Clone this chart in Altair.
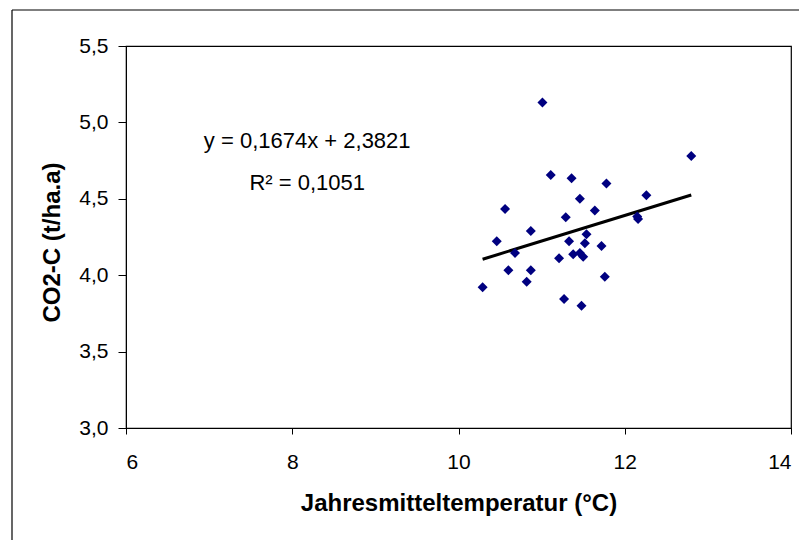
import altair as alt
import pandas as pd

# Data
temperature = [11.01, 12.80, 11.11, 11.36, 11.78, 12.26, 11.46, 10.56, 11.64, 11.29,
               12.15, 12.16, 10.87, 11.54, 10.46, 11.33, 11.52, 10.68, 11.72, 11.21,
               11.38, 11.46, 11.50, 10.60, 10.87, 10.82, 11.76, 10.29, 11.27, 11.48]
co2c = [5.13, 4.78, 4.655, 4.635, 4.60, 4.524, 4.50, 4.434, 4.423, 4.38,
        4.384, 4.367, 4.29, 4.268, 4.222, 4.222, 4.209, 4.146, 4.191, 4.111,
        4.137, 4.146, 4.121, 4.032, 4.032, 3.957, 3.99, 3.921, 3.844, 3.80]

slope = 0.1674
intercept = 2.3821
equation_lines = ["y = 0,1674x + 2,3821", "R² = 0,1051"]
equation_x = [8.18, 8.18]
equation_y = [4.83, 4.555]

x_ticks = [6, 8, 10, 12, 14]
y_ticks = [3.0, 3.5, 4.0, 4.5, 5.0, 5.5]

FONT = "Liberation Sans"

points = pd.DataFrame({"t": temperature, "c": co2c})
line_x = [min(temperature), max(temperature)]
trend = pd.DataFrame({"t": line_x, "c": [slope * v + intercept for v in line_x]})
eq = pd.DataFrame({"t": equation_x, "c": equation_y, "label": equation_lines})

x_scale = alt.Scale(domain=[6, 14], nice=False, zero=False)
y_scale = alt.Scale(domain=[3.0, 5.5], nice=False, zero=False)

x_axis = alt.Axis(
    title="Jahresmitteltemperatur (°C)", values=x_ticks, grid=False, format="d",
    domainColor="black", tickColor="black", tickSize=6, labelPadding=17,
    labelFont=FONT, labelFontSize=21, labelColor="black",
    titleFont=FONT, titleFontSize=24, titleFontWeight="bold", titleColor="black",
    titleY=82, titleBaseline="alphabetic",
)
y_axis = alt.Axis(
    title="CO2-C (t/ha.a)", values=y_ticks, grid=False,
    labelExpr="replace(format(datum.value, '.1f'), '.', ',')",
    domainColor="black", tickColor="black", tickSize=8, labelPadding=10,
    labelFont=FONT, labelFontSize=21, labelColor="black",
    titleFont=FONT, titleFontSize=24, titleFontWeight="bold", titleColor="black",
    titleX=-74, titleY=196, titleBaseline="middle", titleAngle=-90,
)

pts = alt.Chart(points).mark_point(
    shape="diamond", filled=True, size=100, color="#000080", opacity=1
).encode(
    x=alt.X("t:Q", scale=x_scale, axis=x_axis),
    y=alt.Y("c:Q", scale=y_scale, axis=y_axis),
)

line = alt.Chart(trend).mark_line(color="black", strokeWidth=3).encode(
    x=alt.X("t:Q", scale=x_scale),
    y=alt.Y("c:Q", scale=y_scale),
)

text = alt.Chart(eq).mark_text(
    font=FONT, fontSize=22, color="black", align="center", baseline="alphabetic"
).encode(
    x=alt.X("t:Q", scale=x_scale),
    y=alt.Y("c:Q", scale=y_scale),
    text="label:N",
)

border_top = alt.Chart(pd.DataFrame({"a": [0]})).mark_rule(
    color="black", strokeWidth=1.2
).encode(x=alt.value(-114), x2=alt.value(720), y=alt.value(-36))
border_left = alt.Chart(pd.DataFrame({"a": [0]})).mark_rule(
    color="black", strokeWidth=1.2
).encode(x=alt.value(-114), y=alt.value(-36), y2=alt.value(600))

chart = alt.layer(border_top, border_left, line, pts, text).properties(
    width=665, height=382,
    autosize=alt.AutoSizeParams(type="none"),
    padding={"left": 118, "top": 38, "right": 8, "bottom": 112},
    background="white",
).configure_view(stroke="black", strokeWidth=1.2)

chart.save("out.html", embed_options={"renderer": "svg", "actions": False})
